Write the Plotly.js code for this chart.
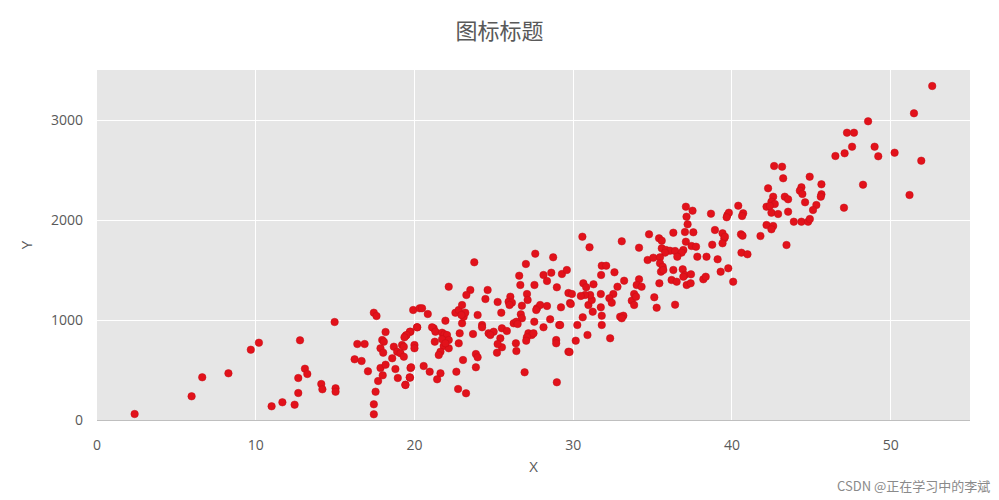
<!DOCTYPE html>
<html><head><meta charset="utf-8">
<script src="https://cdn.plot.ly/plotly-3.0.1.min.js"></script>
<style>body{margin:0;background:#fff}#c{width:999px;height:500px}</style>
</head><body><div id="c"></div>
<script>
const xValues = [
2.37,5.96,6.63,8.28,9.69,10.2,12.79,14.97,11.0,11.68,12.45,12.68,12.68,13.1,13.25,14.13,14.2,15.03,15.03,
17.44,17.61,16.4,16.86,16.23,16.67,17.07,17.44,17.44,17.55,17.71,18.0,17.86,18.18,18.18,17.97,18.07,17.86,18.03,
18.6,18.7,19.22,19.33,18.91,19.12,19.33,20.0,20.0,18.8,18.95,19.75,19.72,19.43,19.45,19.75,20.17,19.92,20.33,
23.77,22.16,23.52,23.27,24.61,24.47,25.24,26.04,25.93,26.14,25.99,25.47,27.61,27.02,28.74,26.6,26.67,27.56,
28.13,28.62,28.35,28.97,29.29,29.6,27.09,27.13,26.77,27.72,27.92,28.35,27.67,29.23,26.7,26.77,26.25,26.42,26.5,
27.55,28.55,28.13,29.12,27.18,27.39,27.5,27.08,27.04,28.93,28.93,29.7,26.39,26.42,26.94,28.97,25.51,25.82,
25.41,25.51,25.24,25.2,24.67,24.99,24.78,24.26,24.26,23.98,23.69,22.85,22.79,23.0,23.1,23.2,22.58,22.79,23.0,22.96,
21.95,23.87,23.98,23.87,23.06,22.64,22.75,23.25,21.21,21.11,21.32,21.74,21.89,22.05,21.74,22.16,21.84,22.16,21.64,21.53,
21.28,21.95,20.48,20.84,20.17,19.71,19.5,19.37,19.79,19.7,19.43,20.58,20.96,21.64,21.43,29.8,29.7,
30.58,31.03,33.06,34.15,34.78,35.41,35.58,35.58,35.85,36.1,36.42,35.79,36.31,37.1,37.52,37.14,37.21,37.04,37.57,37.1,
36.94,36.83,36.56,37.46,37.74,37.82,38.68,38.93,39.41,39.52,39.41,38.76,38.4,39.1,39.72,34.69,35.05,35.47,
35.47,35.64,35.53,35.68,36.31,36.2,36.52,36.9,37.04,37.42,36.94,37.15,37.4,38.2,38.35,39.29,39.77,35.43,35.11,35.26,36.42,
34.15,34.0,34.31,33.84,33.69,33.84,33.96,33.21,32.79,32.6,31.8,32.08,31.76,32.53,32.28,32.43,31.74,32.96,33.16,33.06,
31.74,31.8,31.8,32.33,31.23,30.96,31.17,31.07,30.75,30.48,30.64,30.82,31.28,30.9,30.6,30.26,30.16,29.77,29.92,29.85,29.18,
42.66,43.16,43.23,44.9,42.28,44.38,44.28,44.44,45.64,45.64,45.6,42.6,43.33,43.54,42.49,42.7,42.18,42.39,44.61,45.32,45.11,
43.54,42.49,42.91,42.18,42.6,42.49,43.9,44.38,44.8,44.91,43.44,41.8,40.4,39.81,39.67,40.71,40.64,39.56,40.57,40.67,
40.6,40.98,40.08,46.52,47.1,47.25,47.06,52.62,51.47,48.58,47.69,47.57,48.99,49.22,50.25,51.93,48.26,51.19
];
const yValues = [
60,237,427,467,703,773,797,980,137,177,153,270,420,513,460,360,307,317,283,
1073,1040,760,760,607,590,487,157,57,283,390,447,520,553,880,800,783,717,673,
617,733,750,733,683,667,633,750,717,510,420,520,423,353,843,883,927,1100,1117,
1577,1333,1300,1250,1300,1210,1180,1233,1183,1173,1150,1073,1663,1560,1627,1443,1350,1350,
1450,1473,1390,1327,1460,1500,1260,1200,1143,1117,1150,1140,1100,1127,1057,1017,967,983,960,
983,1007,927,950,867,850,867,827,793,800,767,683,767,690,477,377,917,890,
817,727,760,673,867,883,850,950,927,1050,860,867,767,967,1033,1073,1073,1100,1150,1050,
993,660,627,527,600,483,310,267,917,927,883,873,857,850,807,800,740,717,683,650,
783,767,1117,1060,927,883,850,827,527,427,350,540,483,467,407,1170,1270,
1833,1727,1787,1723,1857,1817,1793,1717,1700,1693,1690,1673,1873,2133,2093,2033,1957,1880,1877,1783,
1700,1673,1633,1740,1733,1633,2063,1900,1867,1817,1767,1753,1633,1607,2050,1600,1623,1627,
1567,1533,1483,1500,1500,1400,1383,1507,1450,1457,1433,1350,1367,1407,1433,1483,1517,1367,1227,1123,1153,
1407,1350,1333,1260,1193,1150,1233,1393,1333,1477,1543,1543,1450,1260,1217,1173,1260,1033,1043,1017,
1127,1043,950,817,1083,1150,1200,1250,1250,1240,1367,1327,1357,850,1027,950,793,680,1260,1160,950,
2540,2533,2417,2433,2317,2327,2293,2260,2357,2257,2233,2233,2233,2207,2183,2160,2133,2140,2177,2150,2100,
2083,2073,2060,1950,1940,1907,1983,1983,1983,2010,1750,1840,2143,2073,2027,2067,2040,1833,1857,1843,
1673,1657,1383,2640,2667,2873,2123,3340,3067,2987,2873,2733,2733,2637,2673,2593,2353,2250
];
const xTicks = [0,10,20,30,40,50];
const yTicks = [0,1000,2000,3000];
const chartTitle = '图标标题';

const grey = '#595959';
Plotly.newPlot('c', [{
  type: 'scatter', mode: 'markers', x: xValues, y: yValues,
  marker: {color: '#e2121b', size: 7.5, line: {color: '#c40e16', width: 0.5}},
  hoverinfo: 'skip'
}], {
  width: 999, height: 500,
  paper_bgcolor: '#ffffff', plot_bgcolor: '#e6e6e6',
  margin: {l: 97, r: 29, t: 70, b: 80},
  showlegend: false,
  font: {family: 'Noto Sans CJK SC, Open Sans, sans-serif', color: grey},
  title: {text: chartTitle, x: 0.5, xanchor: 'center', y: 0.937, yanchor: 'middle',
          font: {size: 22, color: grey, family: 'Noto Sans CJK SC, sans-serif'}},
  xaxis: {range: [0, 55], tickvals: xTicks, ticktext: xTicks.map(String),
          showgrid: true, gridcolor: '#ffffff', gridwidth: 1, zeroline: false,
          showline: true, linecolor: '#bfbfbf', linewidth: 1,
          ticks: '', ticklabelstandoff: 12,
          tickfont: {size: 14, color: grey, family: 'Open Sans, sans-serif'},
          title: {text: 'X', standoff: 8, font: {size: 15, color: grey, family: 'Open Sans, sans-serif'}}},
  yaxis: {range: [0, 3500], tickvals: yTicks, ticktext: yTicks.map(String),
          showgrid: true, gridcolor: '#ffffff', gridwidth: 1, zeroline: false, showline: false,
          ticks: '', ticklabelstandoff: 13,
          tickfont: {size: 14, color: grey, family: 'Open Sans, sans-serif'},
          title: {text: 'Y', standoff: 14, font: {size: 15, color: grey, family: 'Open Sans, sans-serif'}}},
  annotations: [{text: 'CSDN @正在学习中的李斌', xref: 'paper', yref: 'paper', x: 1.025, y: -0.188,
                 xanchor: 'right', yanchor: 'middle', showarrow: false,
                 font: {size: 13, color: '#8a8a8a', family: 'Noto Sans CJK SC, sans-serif'}}]
}, {staticPlot: true});
</script></body></html>
